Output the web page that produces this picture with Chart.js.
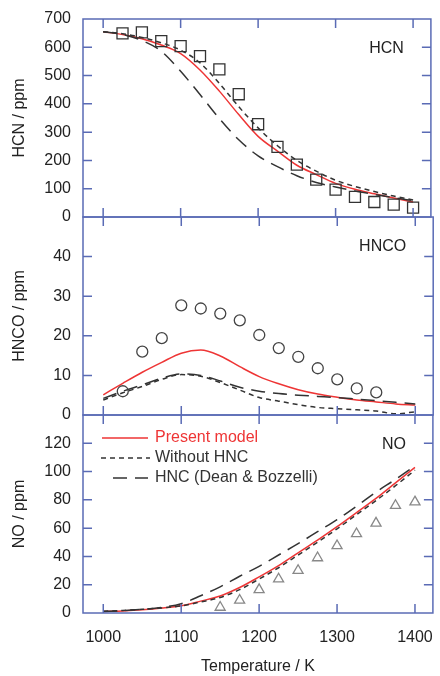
<!DOCTYPE html>
<html>
<head>
<meta charset="utf-8">
<script src="https://cdn.jsdelivr.net/npm/chart.js@4.4.0/dist/chart.umd.min.js"></script>
<style>
  body { margin: 0; background: #fff; }
  #wrap { position: relative; width: 440px; height: 676px; }
  canvas { position: absolute; left: 0; }
</style>
</head>
<body>
<div id="wrap">
  <canvas id="hcnChart" width="440" height="227" style="top:0px"></canvas>
  <canvas id="hncoChart" width="440" height="218" style="top:207px"></canvas>
  <canvas id="noChart" width="440" height="271" style="top:405px"></canvas>
</div>
<script>
// Температуры (K)
const temps = [1000, 1025, 1050, 1075, 1100, 1125, 1150, 1175, 1200, 1225, 1250, 1275, 1300, 1325, 1350, 1375, 1400];
const expTemps = [1025, 1050, 1075, 1100, 1125, 1150, 1175, 1200, 1225, 1250, 1275, 1300, 1325, 1350, 1375, 1400];
const hncoExpTemps = [1025, 1050, 1075, 1100, 1125, 1150, 1175, 1200, 1225, 1250, 1275, 1300, 1325, 1350];
const noExpTemps = [1150, 1175, 1200, 1225, 1250, 1275, 1300, 1325, 1350, 1375, 1400];

// Подписи осей
const xTicks = [1000, 1100, 1200, 1300, 1400];
const hcnTicks = [0, 100, 200, 300, 400, 500, 600, 700];
const hncoTicks = [0, 10, 20, 30, 40, 50];
const noTicks = [0, 20, 40, 60, 80, 100, 120, 140];

const seriesNames = ['Present model', 'Without HNC', 'HNC (Dean & Bozzelli)'];

// HCN
const hcnPresent = [655, 645, 630, 608, 578, 520, 445, 362, 285, 233, 183, 150, 119, 98, 82, 67, 53];
const hcnNoHnc = [655, 648, 635, 616, 590, 545, 472, 390, 315, 252, 200, 162, 130, 108, 90, 74, 60];
const hcnDean = [655, 645, 624, 586, 515, 433, 348, 273, 216, 178, 146, 122, 106, 92, 80, 68, 58];
const hcnExp = [649, 653, 622, 604, 569, 522, 434, 328, 248, 185, 132, 97, 71, 53, 44, 33];

// HNCO
const hncoPresent = [5.1, 8.0, 10.8, 13.3, 15.6, 16.4, 14.9, 12.2, 9.7, 7.9, 6.4, 5.3, 4.5, 3.8, 3.3, 2.8, 2.5];
const hncoNoHnc = [3.8, 5.6, 7.2, 9.0, 10.2, 9.8, 8.2, 6.3, 4.4, 3.5, 2.6, 1.9, 1.6, 1.3, 1.0, 0.3, 0.8];
const hncoDean = [4.2, 6.0, 7.6, 9.3, 10.4, 10.0, 8.6, 7.0, 6.0, 5.4, 5.0, 4.7, 4.4, 4.0, 3.6, 3.2, 2.8];
const hncoExp = [6.0, 16.0, 19.4, 27.7, 26.9, 25.6, 23.9, 20.2, 16.9, 14.7, 11.8, 9.0, 6.7, 5.7];

// NO
const noPresent = [1.0, 1.5, 2.3, 3.5, 5.2, 8.4, 12.0, 18.0, 25.5, 33.5, 42.5, 51.5, 61.0, 71.0, 81.0, 92.0, 103.0];
const noNoHnc = [1.2, 1.8, 2.6, 3.6, 5.0, 7.8, 11.0, 16.5, 24.0, 32.0, 41.0, 50.0, 59.5, 69.5, 79.5, 90.0, 101.0];
const noDean = [1.0, 1.6, 2.6, 4.0, 6.6, 12.2, 18.5, 26.0, 33.0, 41.0, 49.0, 57.5, 66.0, 75.5, 85.5, 94.5, 104.0];
const noExp = [4.0, 9.0, 16.5, 24.0, 30.0, 39.0, 47.5, 56.0, 63.5, 76.0, 78.5];

const xMin = 974;
const xMax = 1423;

const axisColor = '#5a6bb5';
const textColor = '#222';
const redColor = '#ee3535';
const darkColor = '#333';
const shortDash = [5, 4];
const longDash = [14, 8];

Chart.defaults.font.family = '"Liberation Sans", Arial, sans-serif';
Chart.defaults.font.size = 16;
Chart.defaults.color = textColor;

// Рамка, внутренние засечки, подпись панели и легенда
const framePlugin = {
  id: 'frame',
  afterDraw(chart, args, opts) {
    const { ctx, chartArea: a, scales } = chart;
    const xs = scales.x, ys = scales.y;
    ctx.save();
    ctx.strokeStyle = axisColor;
    ctx.lineWidth = 1.5;
    ctx.setLineDash([]);
    ctx.strokeRect(a.left, a.top, a.right - a.left, a.bottom - a.top);
    ctx.beginPath();
    xTicks.forEach(v => {
      const px = xs.getPixelForValue(v);
      ctx.moveTo(px, a.top); ctx.lineTo(px, a.top + 9);
      ctx.moveTo(px, a.bottom); ctx.lineTo(px, a.bottom - 9);
    });
    ys.ticks.forEach(t => {
      if (t.value === ys.min || t.value === ys.max) return;
      const py = ys.getPixelForValue(t.value);
      ctx.moveTo(a.left, py); ctx.lineTo(a.left + 9, py);
      ctx.moveTo(a.right, py); ctx.lineTo(a.right - 9, py);
    });
    ctx.stroke();

    ctx.fillStyle = textColor;
    ctx.font = '16px "Liberation Sans", Arial, sans-serif';
    ctx.textAlign = 'right';
    ctx.textBaseline = 'middle';
    ctx.fillText(opts.label, a.right - 27, a.top + 30);

    if (opts.legend) {
      const items = [
        { color: redColor, dash: [], x0: 19, x1: 65, y: 23 },
        { color: darkColor, dash: shortDash, x0: 18, x1: 67, y: 43 },
        { color: darkColor, dash: longDash, x0: 30, x1: 65, y: 63 }
      ];
      items.forEach((it, i) => {
        ctx.strokeStyle = it.color;
        ctx.lineWidth = 1.5;
        ctx.setLineDash(it.dash);
        ctx.beginPath();
        ctx.moveTo(a.left + it.x0, a.top + it.y);
        ctx.lineTo(a.left + it.x1, a.top + it.y);
        ctx.stroke();
        ctx.fillStyle = i === 0 ? redColor : darkColor;
        ctx.textAlign = 'left';
        ctx.fillText(seriesNames[i], a.left + 72, a.top + it.y);
      });
    }
    ctx.restore();
  }
};

function lineSet(label, values, color, dash) {
  return {
    label: label,
    data: temps.map((t, i) => ({ x: t, y: values[i] })),
    borderColor: color,
    borderDash: dash,
    borderWidth: 1.5,
    pointRadius: 0,
    cubicInterpolationMode: 'monotone',
    fill: false
  };
}

function markerSet(xValues, values, style, radius, color) {
  return {
    label: 'exp',
    data: xValues.map((t, i) => ({ x: t, y: values[i] })),
    showLine: false,
    pointStyle: style,
    pointRadius: radius,
    pointBorderColor: color,
    pointBackgroundColor: 'rgba(0,0,0,0)',
    pointBorderWidth: 1.3
  };
}

function yScale(title, ticks) {
  const max = ticks[ticks.length - 1];
  return {
    type: 'linear',
    min: 0,
    max: max,
    afterBuildTicks: s => { s.ticks = ticks.map(v => ({ value: v })); },
    afterFit: s => { s.width = 83; s.paddingTop = 0; s.paddingBottom = 0; },
    grid: { display: false, drawTicks: false },
    border: { display: false },
    ticks: {
      padding: 12,
      color: textColor,
      callback: v => (v === max && max !== 700) ? '' : String(v)
    },
    title: { display: true, text: title, color: textColor, padding: { top: 10, bottom: 0 } }
  };
}

function hiddenX() {
  return { type: 'linear', display: false, min: xMin, max: xMax };
}

function makePanel(id, datasets, scaleY, scaleX, padding, pluginOpts) {
  const ctx = document.getElementById(id).getContext('2d');
  return new Chart(ctx, {
    type: 'line',
    data: { datasets: datasets },
    options: {
      responsive: false,
      animation: false,
      layout: { padding: padding },
      plugins: { legend: { display: false }, tooltip: { enabled: false }, frame: pluginOpts },
      scales: { x: scaleX, y: scaleY }
    },
    plugins: [framePlugin]
  });
}

// HCN
makePanel('hcnChart', [
  markerSet(expTemps, hcnExp, 'rect', 7.8, darkColor),
  lineSet(seriesNames[1], hcnNoHnc, darkColor, shortDash),
  lineSet(seriesNames[2], hcnDean, darkColor, longDash),
  lineSet(seriesNames[0], hcnPresent, redColor, [])
], yScale('HCN / ppm', hcnTicks), hiddenX(), { top: 19, bottom: 10, left: 0, right: 2 }, { label: 'HCN' });

// HNCO
makePanel('hncoChart', [
  markerSet(hncoExpTemps, hncoExp, 'circle', 5.5, '#444'),
  lineSet(seriesNames[1], hncoNoHnc, darkColor, shortDash),
  lineSet(seriesNames[2], hncoDean, darkColor, longDash),
  lineSet(seriesNames[0], hncoPresent, redColor, [])
], yScale('HNCO / ppm', hncoTicks), hiddenX(), { top: 10, bottom: 10, left: 0, right: 2 }, { label: 'HNCO' });

// NO
makePanel('noChart', [
  markerSet(noExpTemps, noExp, 'triangle', 5.8, '#888'),
  lineSet(seriesNames[1], noNoHnc, darkColor, shortDash),
  lineSet(seriesNames[2], noDean, darkColor, longDash),
  lineSet(seriesNames[0], noPresent, redColor, [])
], yScale('NO / ppm', noTicks), {
  type: 'linear',
  min: xMin,
  max: xMax,
  afterBuildTicks: s => { s.ticks = xTicks.map(v => ({ value: v })); },
  afterFit: s => { s.height = 63; s.paddingLeft = 0; s.paddingRight = 0; },
  grid: { display: false, drawTicks: false },
  border: { display: false },
  ticks: { padding: 15, color: textColor, maxRotation: 0, callback: v => String(v) },
  title: { display: true, text: 'Temperature / K', color: textColor, padding: { top: 0, bottom: 0 } }
}, { top: 10, bottom: 0, left: 0, right: 2 }, { label: 'NO', legend: true });
</script>
</body>
</html>
